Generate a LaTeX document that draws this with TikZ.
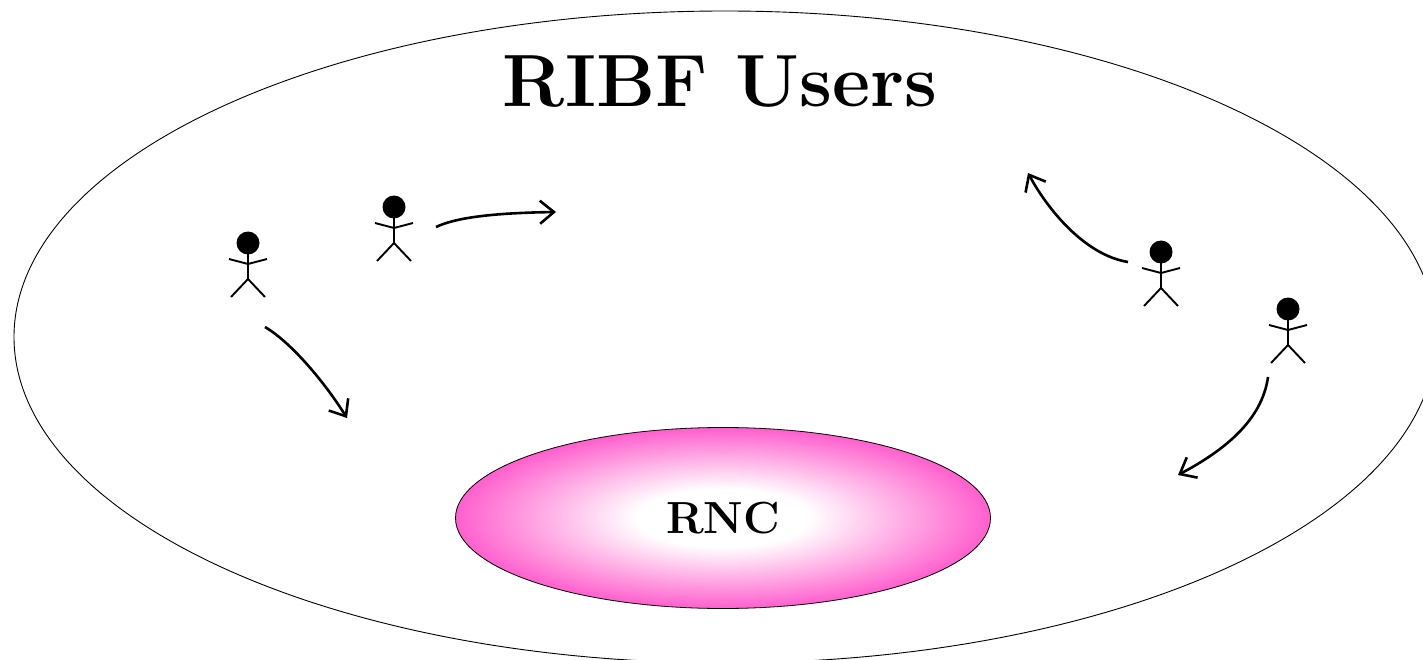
\documentclass[tikz,border=0pt]{standalone}
\usetikzlibrary{shapes.geometric,arrows.meta}

\definecolor{rncpink}{RGB}{255,95,205}
\pgfdeclareradialshading{rncshade}{\pgfpoint{0bp}{0bp}}{color(0bp)=(white); color(8bp)=(white); color(25bp)=(rncpink); color(50bp)=(rncpink)}

\tikzset{
  stickman/.pic={
    \fill (0,0) circle (11.5pt);
    \draw[line width=1.9pt] (0,11) -- (0,36);
    \draw[line width=1.9pt] (-19,16) -- (0,21) -- (19,16);
    \draw[line width=1.9pt] (-17,54) -- (0,36) -- (17,54);
  },
  move/.style={line width=2.6pt, -{Straight Barb[length=14pt,width=23pt]}},
}

\begin{document}
\begin{tikzpicture}[x=1pt,y=-1pt]
\clip (0,0) rectangle (1423,660);
\draw [line width=0.9pt] (725,337) ellipse (711pt and 326pt);
\node (title) [anchor=base] at (720,107) {\fontsize{74}{80}\selectfont\bfseries RIBF Users};
\node (rnc) [ellipse, draw, line width=0.8pt, shading=rncshade, minimum width=535pt, minimum height=181pt, inner sep=0pt] at (723,518) {\fontsize{45}{50}\selectfont\bfseries RNC};

\pic (u1) at (248,243) {stickman};
\pic (u2) at (394,207) {stickman};
\pic (u3) at (1161,252) {stickman};
\pic (u4) at (1288,309) {stickman};

\coordinate (a1) at (265,327); \coordinate (b1) at (347,418);
\coordinate (a2) at (436,227); \coordinate (b2) at (556,212);
\coordinate (a3) at (1128,262); \coordinate (b3) at (1028,173);
\coordinate (a4) at (1268,377); \coordinate (b4) at (1178,475);

\draw [move] (a1) .. controls (292,343) and (325,383) .. (b1);
\draw [move] (a2) .. controls (455,218) and (490,213) .. (b2);
\draw [move] (a3) .. controls (1085,255) and (1048,210) .. (b3);
\draw [move] (a4) .. controls (1262,420) and (1225,450) .. (b4);

\end{tikzpicture}
\end{document}
